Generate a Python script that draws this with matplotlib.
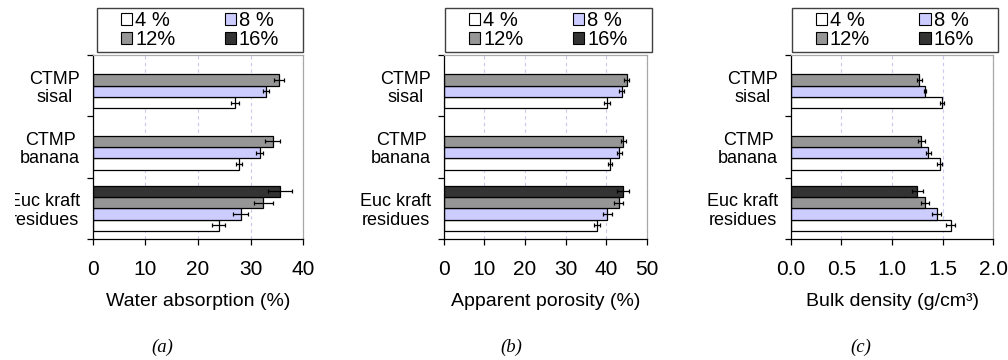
import numpy as np
import matplotlib
matplotlib.use("Agg")
import matplotlib.pyplot as plt
from matplotlib.patches import Patch, Rectangle

plt.rcParams['font.family'] = ['Liberation Sans', 'DejaVu Sans']

# ---------------- data (top-to-bottom category order) ----------------
categories = ['CTMP\nsisal', 'CTMP\nbanana', 'Euc kraft\nresidues']
series = ['4 %', '8 %', '12%', '16%']
colors = ['#FFFFFF', '#CCCCFF', '#969696', '#333333']

# (a) Water absorption (%)
wa_4 = [27.0, 27.8, 23.9]
wa_8 = [32.9, 31.7, 28.1]
wa_12 = [35.4, 34.2, 32.4]
wa_16 = [np.nan, np.nan, 35.6]
wa_4_err = [0.8, 0.6, 1.3]
wa_8_err = [0.6, 0.7, 1.4]
wa_12_err = [1.0, 1.4, 1.8]
wa_16_err = [np.nan, np.nan, 2.3]

# (b) Apparent porosity (%)
ap_4 = [40.2, 41.0, 37.7]
ap_8 = [43.8, 43.3, 40.3]
ap_12 = [45.1, 44.2, 43.1]
ap_16 = [np.nan, np.nan, 44.2]
ap_4_err = [0.8, 0.5, 0.8]
ap_8_err = [0.5, 0.5, 1.1]
ap_12_err = [0.65, 0.65, 1.15]
ap_16_err = [np.nan, np.nan, 1.5]

# (c) Bulk density (g/cm3)
bd_4 = [1.49, 1.47, 1.58]
bd_8 = [1.33, 1.36, 1.44]
bd_12 = [1.27, 1.29, 1.33]
bd_16 = [np.nan, np.nan, 1.25]
bd_4_err = [0.02, 0.026, 0.046]
bd_8_err = [0.01, 0.023, 0.043]
bd_12_err = [0.026, 0.036, 0.04]
bd_16_err = [np.nan, np.nan, 0.053]

panels = [
    dict(vals=[wa_4, wa_8, wa_12, wa_16], errs=[wa_4_err, wa_8_err, wa_12_err, wa_16_err],
         xticks=[0, 10, 20, 30, 40], xticklabels=['0', '10', '20', '30', '40'],
         xlabel='Water absorption (%)', tag='(a)'),
    dict(vals=[ap_4, ap_8, ap_12, ap_16], errs=[ap_4_err, ap_8_err, ap_12_err, ap_16_err],
         xticks=[0, 10, 20, 30, 40, 50], xticklabels=['0', '10', '20', '30', '40', '50'],
         xlabel='Apparent porosity (%)', tag='(b)'),
    dict(vals=[bd_4, bd_8, bd_12, bd_16], errs=[bd_4_err, bd_8_err, bd_12_err, bd_16_err],
         xticks=[0.0, 0.5, 1.0, 1.5, 2.0], xticklabels=['0.0', '0.5', '1.0', '1.5', '2.0'],
         xlabel='Bulk density (g/cm³)', tag='(c)'),
]

W, H = 1008, 360
fig = plt.figure(figsize=(W / 100, H / 100), dpi=100)

# layout in pixels
axes_px = [(92.7, 303.3), (443.7, 646.7), (790.7, 993.3)]
ax_top, ax_bot = 55, 239
legend_px = [(96.7, 303.3), (445, 651.7), (792, 997.7)]
leg_top, leg_bot = 8.3, 52.0
tag_x = [162.5, 511.7, 860.7]
tag_y = 347.5

bar_h = 0.184
offsets = np.array([-1.5, -0.5, 0.5, 1.5]) * bar_h
ypos = np.arange(len(categories))[::-1]  # sisal top

for i, p in enumerate(panels):
    x0, x1 = axes_px[i]
    ax = fig.add_axes([x0 / W, 1 - ax_bot / H, (x1 - x0) / W, (ax_bot - ax_top) / H])
    for s in range(4):
        y = ypos + offsets[s]
        v = np.array(p['vals'][s], dtype=float)
        e = np.array(p['errs'][s], dtype=float)
        ax.barh(y, v, height=bar_h, color=colors[s], edgecolor='black',
                linewidth=0.9, zorder=2)
        ax.errorbar(v, y, xerr=e, fmt='none', ecolor='black', elinewidth=0.9,
                    capsize=1.6, capthick=0.9, zorder=3)
    ax.set_xlim(p['xticks'][0], p['xticks'][-1])
    ax.set_ylim(-0.5, len(categories) - 0.5)
    ax.set_xticks(p['xticks'])
    ax.set_xticklabels(p['xticklabels'], fontsize=15)
    ax.set_yticks(ypos)
    ax.set_yticklabels(categories, fontsize=13, multialignment='center', linespacing=1.1)
    ax.set_yticks(np.arange(-0.5, len(categories), 1.0), minor=True)
    ax.tick_params(axis='y', which='major', length=0, pad=9)
    ax.tick_params(axis='y', which='minor', length=4.3, width=0.9, direction='out')
    ax.tick_params(axis='x', which='major', length=4.3, width=0.9, direction='out', pad=11)
    ax.xaxis.grid(True, linestyle=(0, (3, 3)), color='#C8C8F0', linewidth=0.8, zorder=0)
    ax.set_axisbelow(True)
    for sp in ['left', 'bottom']:
        ax.spines[sp].set_color('black')
        ax.spines[sp].set_linewidth(0.9)
    for sp in ['top', 'right']:
        ax.spines[sp].set_color('#A8A8A8')
        ax.spines[sp].set_linewidth(0.9)
    ax.set_xlabel(p['xlabel'], fontsize=14, labelpad=10)

    # legend
    lx0, lx1 = legend_px[i]
    fig.patches.append(Rectangle((lx0 / W, 1 - leg_bot / H), (lx1 - lx0) / W,
                                 (leg_bot - leg_top) / H, transform=fig.transFigure,
                                 fill=False, edgecolor='#404040', linewidth=1.0))
    handles = [Patch(facecolor=colors[k], edgecolor='black', linewidth=0.8) for k in range(4)]
    order = [0, 2, 1, 3]
    fig.legend([handles[k] for k in order], [series[k] for k in order], ncol=2,
               loc='center', bbox_to_anchor=((lx0 + lx1) / 2 / W, 1 - (leg_top + leg_bot) / 2 / H),
               frameon=False, fontsize=14.5, handlelength=0.55, handleheight=0.55,
               handletextpad=0.15, columnspacing=2.45, labelspacing=0.0, borderpad=0)

    fig.text(tag_x[i] / W, 1 - tag_y / H, p['tag'], fontsize=13.5, style='italic',
             family=['Liberation Serif', 'DejaVu Serif'], ha='center', va='center')

# original image is cut at its left edge
fig.patches.append(Rectangle((0, 1 - 232 / H), 15 / W, 50 / H, transform=fig.transFigure,
                             facecolor='white', edgecolor='none', zorder=10))

fig.savefig('out.png', dpi=100)
